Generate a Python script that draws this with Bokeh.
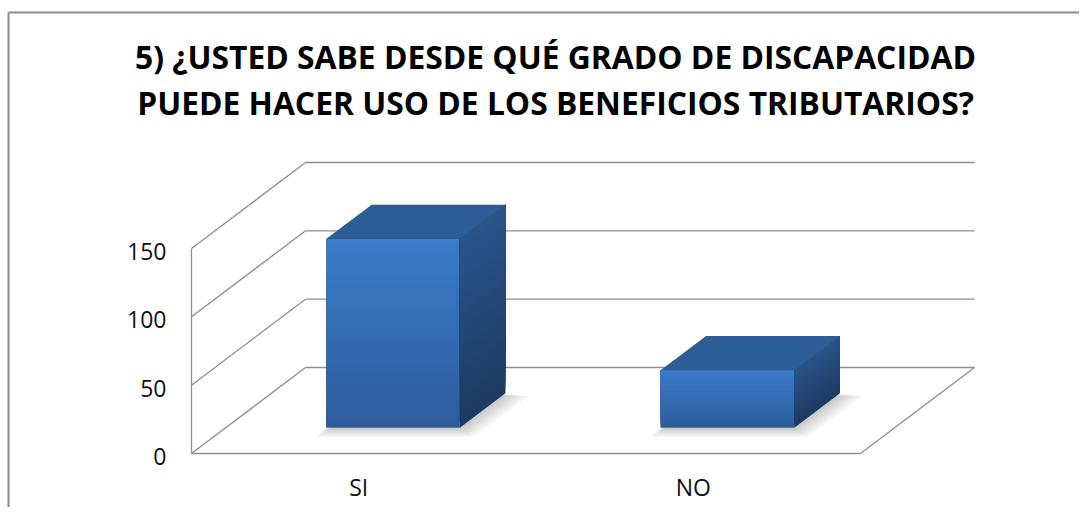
from bokeh.plotting import figure
from bokeh.models import Range1d
from bokeh.embed import file_html
from bokeh.resources import INLINE
from bokeh.core.properties import value

# ---------------- data ----------------
categories = ["SI", "NO"]
counts = [138, 42]
tick_values = [0, 50, 100, 150]
tick_labels = ["0", "50", "100", "150"]
title_lines = ["5) ¿USTED SABE DESDE QUÉ GRADO DE DISCAPACIDAD",
               "PUEDE HACER USO DE LOS BENEFICIOS TRIBUTARIOS?"]

# ---------------- layout ----------------
W, H = 1079, 507
ORIGIN_PX, ORIGIN_PY = 191, 453          # front-left corner of the floor (px)
PX_PER_X = 334.5                          # px per category
PX_PER_Y = 205.0 / 150.0                  # px per value unit


def X(px):
    return (px - ORIGIN_PX) / PX_PER_X


def Y(py):
    return (ORIGIN_PY - py) / PX_PER_Y


DX = 114 / PX_PER_X      # depth offset in x units
DY = 86 / PX_PER_Y       # depth offset in y units
F, B = 0.3, 0.7          # bar front / back depth fraction
HALF_W = 0.2             # half bar width (category units)
n = len(categories)
ymax = tick_values[-1]

p = figure(width=W, height=H,
           x_range=Range1d(X(0), X(W)),
           y_range=Range1d(Y(H), Y(0)),
           x_axis_type=None, y_axis_type=None,
           toolbar_location=None, output_backend="svg",
           min_border=0, outline_line_color=None)
p.background_fill_color = "white"
p.border_fill_color = "white"

GRID = "#8e8e8e"

# chart border (top and left visible)
p.line([X(8), X(W)], [Y(12), Y(12)], line_color="#8a8a8a", line_width=2)
p.line([X(8), X(8)], [Y(12), Y(H)], line_color="#8a8a8a", line_width=2)

# back wall gridlines
p.multi_line(xs=[[DX, n + DX] for v in tick_values],
             ys=[[v + DY, v + DY] for v in tick_values],
             line_color=GRID, line_width=1.3)
# left wall diagonals
p.multi_line(xs=[[0, DX] for v in tick_values],
             ys=[[v, v + DY] for v in tick_values],
             line_color=GRID, line_width=1.3)
# left wall front edge
p.line([0, 0], [0, ymax], line_color=GRID, line_width=1.3)
# floor front edge and right edge
p.line([0, n], [0, 0], line_color=GRID, line_width=1.3)
p.line([n, n + DX], [0, DY], line_color=GRID, line_width=1.3)


def lerp(c1, c2, t):
    a = [int(c1[i:i + 2], 16) for i in (1, 3, 5)]
    b = [int(c2[i:i + 2], 16) for i in (1, 3, 5)]
    return "#%02x%02x%02x" % tuple(round(a[k] + (b[k] - a[k]) * t) for k in range(3))


FRONT_BOT, FRONT_TOP = "#2e5d9b", "#3b7cca"
SIDE_BOT, SIDE_TOP = "#1d3a62", "#2a558b"
TOP_COL = "#2c5d97"
STEPS = 30

for i, v in enumerate(counts):
    xl = i + 0.5 - HALF_W
    xr = i + 0.5 + HALF_W
    fx, fy = F * DX, F * DY
    bx, by = B * DX, B * DY

    # soft shadow on the floor
    for k in range(6):
        e = (k + 1) * 2.2
        ex, ey = e / PX_PER_X, e / PX_PER_Y
        p.patch([xl + fx - ex * 0.8, xr + fx + ex, xr + bx + ex * 1.8, xl + bx + ex],
                [fy - ey * 0.7, fy - ey * 0.7, by - ey * 0.2, by - ey * 0.2],
                fill_color="black", fill_alpha=0.035, line_color=None)

    # front face gradient
    for k in range(STEPS):
        t = k / STEPS
        y0 = fy + v * t
        p.quad(left=xl + fx, right=xr + fx, bottom=y0, top=fy + v,
               fill_color=lerp(FRONT_BOT, FRONT_TOP, t), line_color=None)
    # side face gradient
    for k in range(STEPS):
        t = k / STEPS
        p.patch([xr + fx, xr + bx, xr + bx, xr + fx],
                [fy + v * t, by + v * t, by + v, fy + v],
                fill_color=lerp(SIDE_BOT, SIDE_TOP, t), line_color=None)
    # top face
    p.patch([xl + fx, xr + fx, xr + bx, xl + bx],
            [fy + v, fy + v, by + v, by + v],
            fill_color=TOP_COL, line_color=None)

# value axis labels
p.text(x=[X(166)] * len(tick_values), y=tick_values, text=tick_labels,
       text_align="right", text_baseline="middle", y_offset=3,
       text_font=value("Open Sans"), text_font_size="23px", text_color="#111111")

# category labels
p.text(x=[i + 0.5 for i in range(n)], y=[Y(486)] * n, text=categories,
       text_align="center", text_baseline="middle",
       text_font=value("Open Sans"), text_font_size="23px", text_color="#111111")

# title
p.text(x=[X(555)] * 2, y=[Y(56), Y(102)], text=title_lines,
       text_align="center", text_baseline="middle",
       text_font=value("Open Sans"), text_font_style="bold",
       text_font_size="31.8px", text_color="#000000")

open("out.html", "w").write(file_html(p, INLINE))
